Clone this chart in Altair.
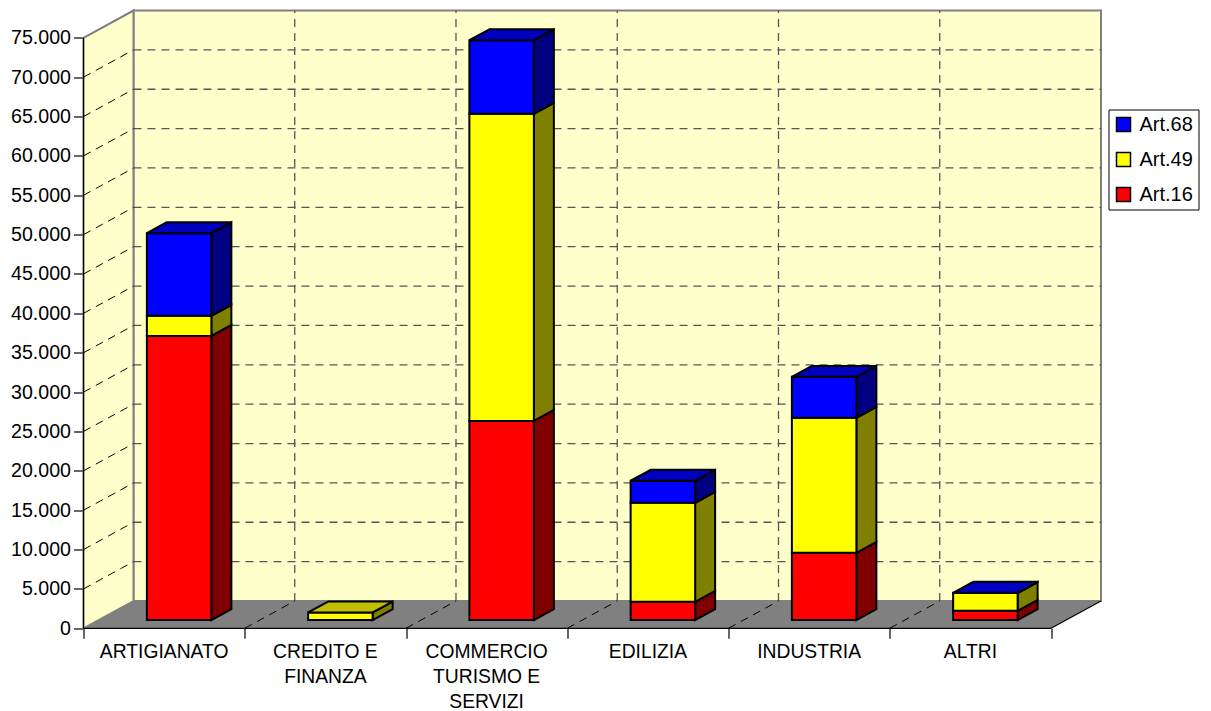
import altair as alt
import pandas as pd

categories = ["ARTIGIANATO", "CREDITO E\nFINANZA", "COMMERCIO\nTURISMO E\nSERVIZI", "EDILIZIA", "INDUSTRIA", "ALTRI"]
art16 = [36100, 0, 25300, 2330, 8550, 1180]
art49 = [2550, 970, 39000, 12570, 17150, 2250]
art68 = [10500, 0, 9350, 2800, 5200, 40]
series_names = ["Art.16", "Art.49", "Art.68"]
front_colors = ["#FF0000", "#FFFF00", "#0000FF"]
side_colors = ["#800000", "#808000", "#000080"]
top_colors = ["#C00000", "#C0C000", "#0000C0"]
y_ticks = list(range(0, 75001, 5000))

# perspective of the box, in scale units
DX = 0.31
DY = 3467
BAR_OFF = 0.30
BAR_DEPTH = 0.40
BAR_W = 0.40
YMAX = 75000

xs = alt.Scale(domain=[0, 6 + DX], nice=False, zero=False)
ys = alt.Scale(domain=[0, YMAX + DY], nice=False, zero=False)
x_axis = alt.Axis(
    values=list(range(7)), title=None, domain=False, grid=False, labels=False,
    tickSize=10, tickColor="black", tickWidth=1.2)
y_axis = alt.Axis(
    values=y_ticks, title=None, domain=False, grid=False, tickSize=10,
    tickColor="black", tickWidth=1.2, labelFontSize=19.6, labelFont="Liberation Sans",
    labelColor="black", labelPadding=3,
    labelExpr="replace(format(datum.value, ','), ',', '.')")
X = lambda f="x": alt.X(f"{f}:Q", scale=xs, axis=x_axis, title=None)
Y = lambda f="y": alt.Y(f"{f}:Q", scale=ys, axis=y_axis, title=None)

fronts, sides, tops = [], [], []
for c, cat in enumerate(categories):
    x0 = c + 0.5 - BAR_W / 2 + DX * BAR_OFF
    x1 = x0 + BAR_W
    base = DY * BAR_OFF
    vals = [art16[c], art49[c], art68[c]]
    last = max(i for i, v in enumerate(vals) if v > 0)
    for i, v in enumerate(vals):
        if v <= 0:
            continue
        key = f"{c}-{i}"
        fronts.append(dict(x=x0, x2=x1, y=base, y2=base + v, s=series_names[i]))
        for d in (0, 1):
            sides.append(dict(k=key, x=x1 + d * DX * BAR_DEPTH,
                              y=base + d * DY * BAR_DEPTH,
                              y2=base + v + d * DY * BAR_DEPTH,
                              c=side_colors[i]))
        if i == last:
            for d in (0, 1):
                tops.append(dict(k=key, y=base + v + d * DY * BAR_DEPTH,
                                 x=x0 + d * DX * BAR_DEPTH,
                                 x2=x1 + d * DX * BAR_DEPTH,
                                 c=top_colors[i]))
        base += v

WALL = "#FFFFCC"
GREY = "#808080"

back = alt.Chart(pd.DataFrame([dict(x=DX, x2=6 + DX, y=DY, y2=YMAX + DY)])).mark_rect(
    fill=WALL, stroke=GREY, strokeWidth=2).encode(X(), x2="x2:Q", y=Y(), y2="y2:Q")

left = alt.Chart(pd.DataFrame([dict(x=0, y=0, y2=YMAX), dict(x=DX, y=DY, y2=YMAX + DY)])).mark_area(
    fill=WALL, stroke=GREY, strokeWidth=2).encode(X(), y=Y(), y2="y2:Q")

floor = alt.Chart(pd.DataFrame([dict(y=0, x=0, x2=6), dict(y=DY, x=DX, x2=6 + DX)])).mark_area(
    fill=GREY, orient="horizontal").encode(x=X(), x2="x2:Q", y=Y())

grid_back_h = alt.Chart(pd.DataFrame([dict(x=DX, x2=6 + DX, y=t + DY) for t in y_ticks[1:-1]])).mark_rule(
    color="#555555", strokeDash=[8, 6], strokeWidth=1.3).encode(X(), x2="x2:Q", y=Y())

grid_back_v = alt.Chart(pd.DataFrame([dict(x=c + DX, y=DY, y2=YMAX + DY) for c in range(1, 6)])).mark_rule(
    color="#555555", strokeDash=[8, 6], strokeWidth=1.3).encode(X(), y=Y(), y2="y2:Q")

grid_left = alt.Chart(pd.DataFrame(
    [dict(k=t, x=d * DX, y=t + d * DY) for t in y_ticks[1:-1] for d in (0, 1)])).mark_line(
    color="black", strokeDash=[8, 6], strokeWidth=1).encode(X(), Y(), detail="k:N")

grid_floor = alt.Chart(pd.DataFrame(
    [dict(k=c, x=c + d * DX, y=d * DY) for c in range(1, 6) for d in (0, 1)])).mark_line(
    color="black", strokeDash=[8, 6], strokeWidth=1).encode(X(), Y(), detail="k:N")

edge_right = alt.Chart(pd.DataFrame([dict(x=6, y=0), dict(x=6 + DX, y=DY)])).mark_line(
    color="black", strokeWidth=1.2).encode(X(), Y())

axis_y_line = alt.Chart(pd.DataFrame([dict(x=0, y=0, y2=YMAX)])).mark_rule(
    color="black", strokeWidth=1.2).encode(X(), y=Y(), y2="y2:Q")

axis_x_line = alt.Chart(pd.DataFrame([dict(x=0, x2=6, y=0)])).mark_rule(
    color="black", strokeWidth=1.2).encode(X(), x2="x2:Q", y=Y())

side_layer = alt.Chart(pd.DataFrame(sides)).mark_area(stroke="black", strokeWidth=2).encode(
    x=X(), y=Y(), y2="y2:Q", detail="k:N", fill=alt.Fill("c:N", scale=None))

top_layer = alt.Chart(pd.DataFrame(tops)).mark_area(
    stroke="black", strokeWidth=2, orient="horizontal").encode(
    x=X(), x2="x2:Q", y=Y(), detail="k:N", fill=alt.Fill("c:N", scale=None))

front_layer = alt.Chart(pd.DataFrame(fronts)).mark_rect(stroke="black", strokeWidth=2).encode(
    x=X(), x2="x2:Q", y=Y(), y2="y2:Q",
    color=alt.Color("s:N",
                    scale=alt.Scale(domain=series_names[::-1], range=front_colors[::-1]),
                    sort=series_names[::-1],
                    legend=alt.Legend(
                        title=None, orient="none", legendX=1025, legendY=99,
                        symbolType="square", symbolSize=196, symbolStrokeColor="black",
                        symbolStrokeWidth=1.5, symbolOpacity=1,
                        labelFontSize=20, labelFont="Liberation Sans", labelColor="black",
                        labelOffset=6, rowPadding=15, padding=5,
                        fillColor="white", strokeColor="black")))

labels = alt.Chart(pd.DataFrame(
    [dict(x=i + 0.5, y=0, t=c) for i, c in enumerate(categories)])).mark_text(
    baseline="top", align="center", dy=15, fontSize=19.3, font="Liberation Sans",
    color="black", lineBreak="\n", lineHeight=25).encode(X(), Y(), text="t:N")

chart = alt.layer(
    back, left, floor, grid_back_h, grid_back_v, grid_left, grid_floor,
    side_layer, front_layer, top_layer,
    edge_right, axis_y_line, axis_x_line, labels,
).properties(
    width=1017.5, height=617.8,
    autosize=alt.AutoSizeParams(type="none"),
    padding={"left": 75.5, "top": 2.5, "right": 102, "bottom": 82.7},
).configure_view(stroke=None)

chart.save("out.html", embed_options={"renderer": "svg", "actions": False})
